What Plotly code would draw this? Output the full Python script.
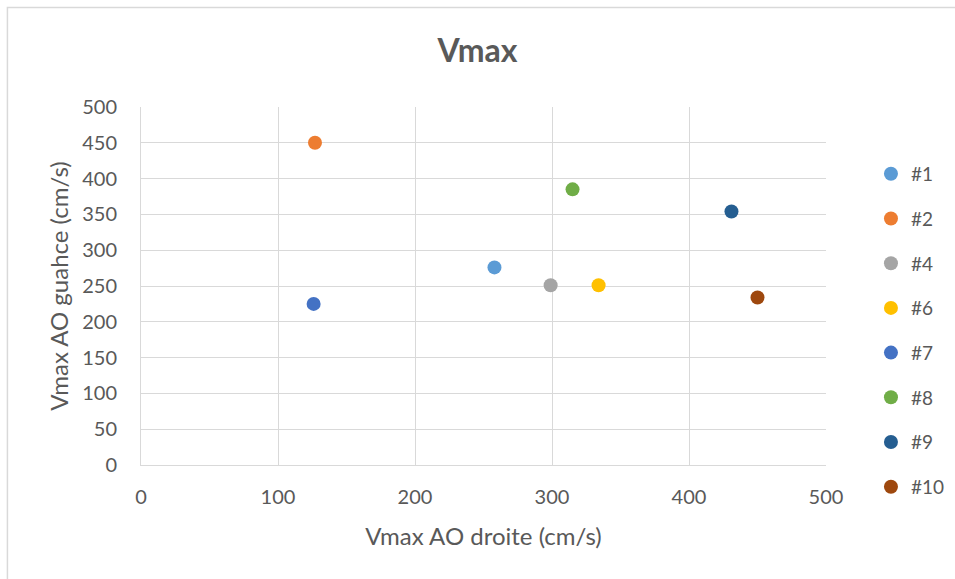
import plotly.graph_objects as go

names = ["#1", "#2", "#4", "#6", "#7", "#8", "#9", "#10"]
x_vals = [258, 127, 299, 334, 126, 315, 431, 450]
y_vals = [276, 450, 251, 251, 225, 385, 354, 234]
colors = ["#5B9BD5", "#ED7D31", "#A5A5A5", "#FFC000", "#4472C4", "#70AD47", "#255E91", "#9E480E"]

FONT = "Lato"
TXT = "#595959"

fig = go.Figure()
for n, x, y, c in zip(names, x_vals, y_vals, colors):
    fig.add_trace(go.Scatter(x=[x], y=[y], mode="markers", name=n, legendgroup=n,
                             marker=dict(color=c, size=14)))

fig.update_layout(
    width=955, height=579,
    paper_bgcolor="white", plot_bgcolor="white",
    margin=dict(l=141, r=129, t=107, b=114),
    font=dict(family=FONT, color=TXT, size=16),
    title=dict(text="<b>Vmax</b>", x=0.5, xanchor="center", y=0.912, yanchor="middle",
               font=dict(size=32, color=TXT, family=FONT)),
    xaxis=dict(range=[0, 500], dtick=100, showgrid=True, gridcolor="#D9D9D9", gridwidth=1,
               zeroline=False, showline=True, linecolor="#D9D9D9", mirror=False,
               ticks="", tickfont=dict(size=20), ticklabelstandoff=14,
               title=dict(text="Vmax AO droite (cm/s)", font=dict(size=24), standoff=21)),
    yaxis=dict(range=[0, 500], dtick=50, showgrid=True, gridcolor="#D9D9D9", gridwidth=1,
               zeroline=False, showline=True, linecolor="#D9D9D9",
               ticks="", tickfont=dict(size=20), ticklabelstandoff=19,
               title=dict(text="Vmax AO guahce (cm/s)", font=dict(size=24), standoff=6)),
    legend=dict(xref="container", x=0.912, xanchor="left", yref="paper", y=0.866, yanchor="top",
                font=dict(size=19), tracegroupgap=17, itemwidth=30, maxheight=520,
                bgcolor="rgba(0,0,0,0)"),
    showlegend=True,
)
fig.add_shape(type="rect", xref="paper", yref="paper", x0=-0.195, x1=1.4, y0=-0.5, y1=1.278,
              line=dict(color="#D9D9D9", width=1.5), layer="below")
fig.write_html("out.html", config={"displayModeBar": False},
               post_script="document.body.style.margin='0';document.body.style.overflow='hidden';")
